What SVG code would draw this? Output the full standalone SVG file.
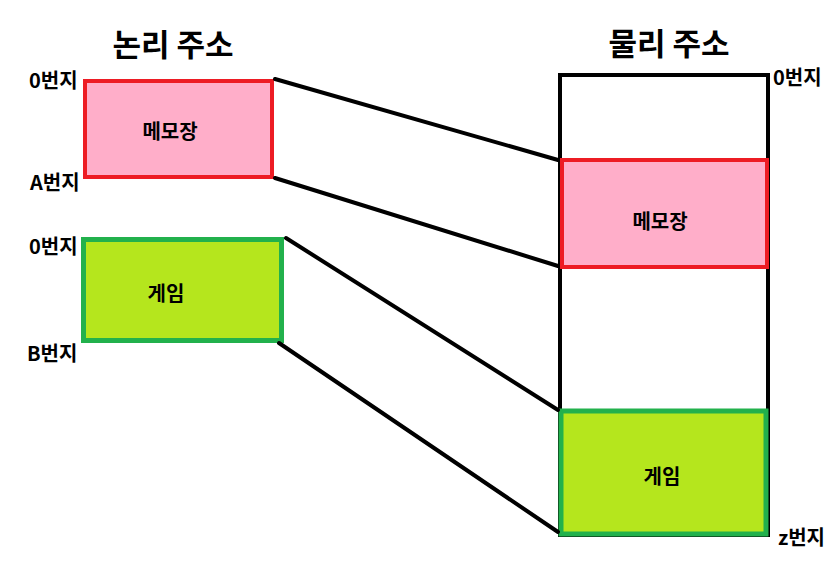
<svg xmlns="http://www.w3.org/2000/svg" width="839" height="568" viewBox="0 0 839 568">
<style>
text{font-family:"Noto Sans CJK KR","Malgun Gothic",sans-serif;font-weight:bold;fill:#000;dominant-baseline:central}
.title{font-size:31px;text-anchor:middle}
.lbl{font-size:20px}
.name{font-size:20px;text-anchor:middle}
.memo{fill:#FFAEC9;stroke:#ED1C24;stroke-width:4}
.game{fill:#B5E61D;stroke:#22B14C;stroke-width:5}
.conn line{stroke:#000;stroke-width:4;stroke-linecap:round}
</style>
<rect width="839" height="568" fill="#fff"/>
<text class="title" x="173" y="42">논리 주소</text>
<text class="title" x="669" y="41">물리 주소</text>
<g id="physical">
<rect x="560" y="75" width="208" height="460" fill="#fff" stroke="#000" stroke-width="4"/>
</g>
<g id="memo-logical">
<rect class="memo" x="85" y="81" width="187" height="96"/>
<text class="name" x="170" y="130">메모장</text>
</g>
<g id="game-logical">
<rect class="game" x="83.5" y="239.5" width="198" height="101"/>
<text class="name" x="166" y="292">게임</text>
</g>
<g id="memo-physical">
<rect class="memo" x="562" y="160" width="205" height="107"/>
<text class="name" x="660" y="220">메모장</text>
</g>
<g id="game-physical">
<rect class="game" x="561" y="411" width="205" height="123"/>
<text class="name" x="662" y="475">게임</text>
</g>
<g class="conn" id="connectors">
<line x1="275" y1="79" x2="558" y2="160"/>
<line x1="275" y1="178" x2="558" y2="266"/>
<line x1="286" y1="238" x2="558" y2="410"/>
<line x1="279" y1="343" x2="558" y2="532"/>
</g>
<g id="labels">
<text class="lbl" x="29" y="79">0번지</text>
<text class="lbl" x="30" y="181">A번지</text>
<text class="lbl" x="29" y="245">0번지</text>
<text class="lbl" x="27" y="352">B번지</text>
<text class="lbl" x="773" y="76">0번지</text>
<text class="lbl" x="778" y="536">z번지</text>
</g>
</svg>
